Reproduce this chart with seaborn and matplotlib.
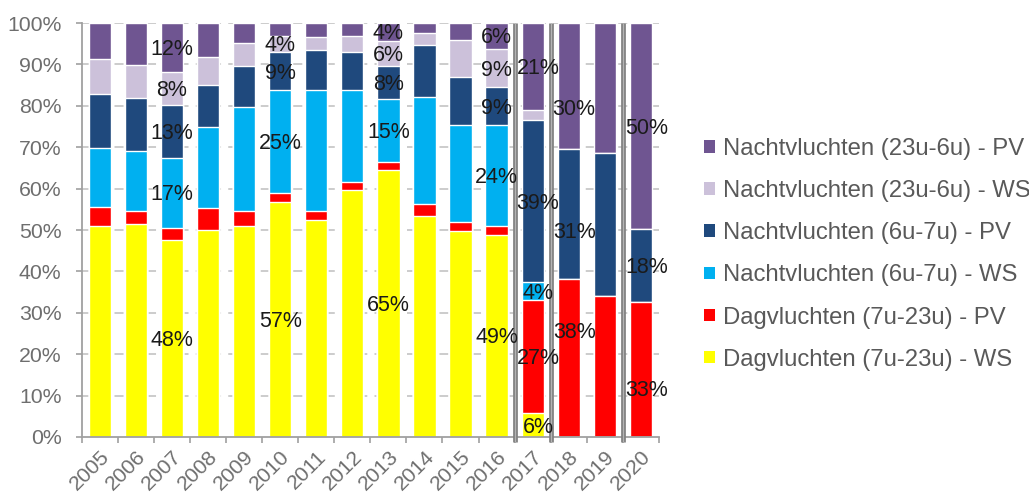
import matplotlib
matplotlib.use("Agg")
import matplotlib.pyplot as plt
from matplotlib.patches import Patch
import numpy as np
import pandas as pd
import seaborn as sns

# Shares (%) per year, from bottom of each bar to the top
years = ["2005", "2006", "2007", "2008", "2009", "2010", "2011", "2012",
         "2013", "2014", "2015", "2016", "2017", "2018", "2019", "2020"]
dag_ws = [50.9, 51.5, 47.6, 50.0, 50.9, 56.7, 52.4, 59.6, 64.6, 53.4, 49.7, 48.9, 5.8, 0, 0, 0]
dag_pv = [4.7, 3.2, 3.0, 5.2, 3.8, 2.2, 2.3, 1.9, 1.8, 2.9, 2.2, 2.0, 27.2, 38.2, 34.1, 32.6]
n67_ws = [14.3, 14.5, 16.9, 19.6, 25.1, 24.8, 29.1, 22.3, 15.2, 25.9, 23.5, 24.4, 4.4, 0, 0, 0]
n67_pv = [13.0, 12.8, 12.6, 10.2, 9.9, 9.4, 9.6, 9.1, 8.1, 12.5, 11.5, 9.2, 39.1, 31.4, 34.4, 17.6]
n236_ws = [8.3, 7.8, 8.0, 6.9, 5.4, 3.8, 3.2, 4.0, 6.0, 2.8, 9.0, 9.3, 2.5, 0, 0, 0]
n236_pv = [8.8, 10.2, 11.9, 8.1, 4.9, 3.1, 3.4, 3.1, 4.3, 2.5, 4.1, 6.2, 21.0, 30.4, 31.5, 49.8]

series_names = [
    "Dagvluchten (7u-23u) - WS",
    "Dagvluchten (7u-23u) - PV",
    "Nachtvluchten (6u-7u) - WS",
    "Nachtvluchten (6u-7u) - PV",
    "Nachtvluchten (23u-6u) - WS",
    "Nachtvluchten (23u-6u) - PV",
]
series_values = [dag_ws, dag_pv, n67_ws, n67_pv, n236_ws, n236_pv]
colors = ["#ffff00", "#ff0000", "#00b0f0", "#1f497d", "#ccc1da", "#6f5591"]

# Segments that carry a value label: (year, series index, vertical nudge in % points)
labelled = [
    ("2007", 0, 0), ("2007", 2, 0), ("2007", 3, 0), ("2007", 4, 0), ("2007", 5, 0),
    ("2010", 0, 0), ("2010", 2, 0), ("2010", 3, 0), ("2010", 4, 0),
    ("2013", 0, 0), ("2013", 2, 0), ("2013", 3, 0), ("2013", 4, 0), ("2013", 5, 0),
    ("2016", 0, 0), ("2016", 2, 0), ("2016", 3, 0), ("2016", 4, 0), ("2016", 5, 0),
    ("2017", 0, 0), ("2017", 1, 0), ("2017", 2, 0), ("2017", 3, 0), ("2017", 5, 0),
    ("2018", 1, 6.7), ("2018", 3, -3.9), ("2018", 5, -5.2),
    ("2020", 1, -4.5), ("2020", 3, 0), ("2020", 5, 0),
]
separators_after = ["2016", "2017", "2019"]

sns.set_style("white")
plt.rcParams["font.family"] = ["Liberation Sans", "DejaVu Sans"]

vals = np.array(series_values, dtype=float)
cum = np.cumsum(vals, axis=0)
df = pd.DataFrame({"jaar": years})
for i in range(len(series_names)):
    df[f"cum{i}"] = cum[i]

fig = plt.figure(figsize=(10.29, 4.95), dpi=100)
ax = fig.add_axes([0.0794, 0.1172, 0.5610, 0.8363])

# Gridlines behind the bars
for yv in range(10, 101, 10):
    ax.axhline(yv, color="#c8c8c8", lw=1.3, ls=(0, (5, 4)), zorder=0)

# Stacked bars: draw cumulative totals from the top layer down
for i in reversed(range(len(series_names))):
    sns.barplot(data=df, x="jaar", y=f"cum{i}", color=colors[i], saturation=1,
                width=0.62, errorbar=None, ax=ax, zorder=2)

# Value labels in their segments
last_group = years.index("2017")
for year, si, nudge in labelled:
    xi = years.index(year)
    v = vals[si, xi]
    yc = cum[si, xi] - v / 2 - 0.5 + nudge
    dx = 0.15 if xi >= last_group else 0.0
    ax.text(xi + dx, yc, f"{v:.0f}%", ha="center", va="center",
            fontsize=15.5, color="#1a1a1a", zorder=5)

# Grey separators between period groups
for year in separators_after:
    xs = years.index(year) + 0.5
    ax.plot([xs, xs], [-1.3, 100], color="#808080", lw=3.4, clip_on=False,
            zorder=4, solid_capstyle="butt")
    ax.plot([xs, xs], [-1.3, 100], color="#b4b4b4", lw=0.9, clip_on=False,
            zorder=4, solid_capstyle="butt")

ax.set_xlim(-0.5, len(years) - 0.5)
ax.set_ylim(0, 100)
ax.set_xlabel("")
ax.set_ylabel("")
ax.set_yticks(range(0, 101, 10))
ax.set_yticklabels([f"{t}%" for t in range(0, 101, 10)])
ax.set_xticks(range(len(years)))
ax.set_xticklabels(years, rotation=45, ha="right", rotation_mode="anchor")
ax.set_xticks(np.arange(-0.5, len(years), 1.0), minor=True)

tick_col = "#6e6e6e"
ax.tick_params(axis="y", labelsize=15.3, labelcolor=tick_col, length=4.5,
               color="#a0a0a0", width=1.2, pad=10, left=True)
ax.tick_params(axis="x", which="major", labelsize=15.3, labelcolor=tick_col,
               length=0, pad=7)
ax.tick_params(axis="x", which="minor", length=4.5, color="#a0a0a0", width=1.2,
               bottom=True)
for side in ["top", "right"]:
    ax.spines[side].set_visible(False)
for side in ["left", "bottom"]:
    ax.spines[side].set_color("#a0a0a0")
    ax.spines[side].set_linewidth(1.3)
ax.spines["left"].set_zorder(6)

# Legend, top layer first
handles = [Patch(facecolor=colors[i], edgecolor="none", label=series_names[i])
           for i in reversed(range(len(series_names)))]
leg = fig.legend(handles=handles, loc="upper left", bbox_to_anchor=(0.675, 0.740),
                 frameon=False, fontsize=17.2, handlelength=0.45, handleheight=0.45,
                 handletextpad=0.32, labelspacing=0.84, borderaxespad=0)
for t in leg.get_texts():
    t.set_color("#595959")

fig.savefig("out.png", dpi=100)
